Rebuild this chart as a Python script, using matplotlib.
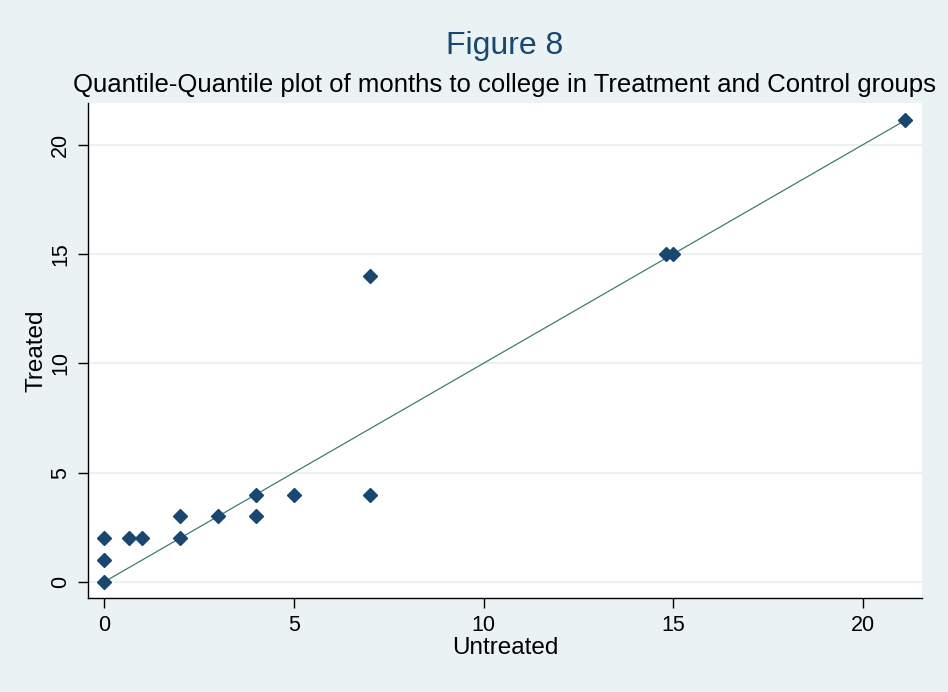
import numpy as np
import matplotlib.pyplot as plt

plt.rcParams["font.family"] = ["Liberation Sans", "DejaVu Sans"]

# -----------------------------------
# Data (quantiles)
# -----------------------------------

untreated = [0, 0, 0, 0.67, 1, 2, 2, 3, 4, 4, 5, 7, 7, 14.8, 15, 21.1]
treated = [0, 1, 2, 2, 2, 2, 3, 3, 3, 4, 4, 4, 14, 15, 15, 21.1]

ref_line = [0, 21.1]

x_ticks = [0, 5, 10, 15, 20]
y_ticks = [0, 5, 10, 15, 20]

# -----------------------------------
# Colours
# -----------------------------------

bg_color = "#eaf2f3"
marker_color = "#1a476f"
line_color = "#3c7d72"

# -----------------------------------
# Plot
# -----------------------------------

fig = plt.figure(figsize=(9.48, 6.92), dpi=100, facecolor=bg_color)
ax = fig.add_axes([0.0928, 0.1358, 0.8798, 0.7154])
ax.set_facecolor("white")

ax.set_xlim(-0.42, 21.55)
ax.set_ylim(-0.73, 21.9)

for yv in y_ticks:
    ax.axhline(yv, color=bg_color, linewidth=1.5, zorder=0)

ax.plot(ref_line, ref_line, color=line_color, linewidth=0.9, zorder=2)
ax.plot(untreated, treated, linestyle="none", marker="D",
        markersize=7.5, color=marker_color, zorder=3)

ax.set_xticks(x_ticks)
ax.set_yticks(y_ticks)
ax.tick_params(axis="both", direction="out", length=7, width=1,
               color="black", labelsize=15.5, pad=5)
for lab in ax.get_yticklabels():
    lab.set_rotation(90)
    lab.set_va("center")

for location, spine in ax.spines.items():
    if location in ["left", "bottom"]:
        spine.set_color("black")
        spine.set_linewidth(1)
    else:
        spine.set_visible(False)

ax.set_xlabel("Untreated", fontsize=17.5)
ax.set_ylabel("Treated", fontsize=17.5)
ax.xaxis.set_label_coords(0.5, -0.078)
ax.yaxis.set_label_coords(-0.049, 0.5)

cx = 0.0928 + 0.8798 / 2
fig.text(cx, 0.933, "Figure 8", fontsize=23, color="#1a476f",
         ha="center", va="center")
fig.text(cx, 0.877,
         "Quantile-Quantile plot of months to college in Treatment and Control groups",
         fontsize=18.5, color="black", ha="center", va="center")

plt.savefig("out.png", dpi=100, facecolor=bg_color)
plt.close()
